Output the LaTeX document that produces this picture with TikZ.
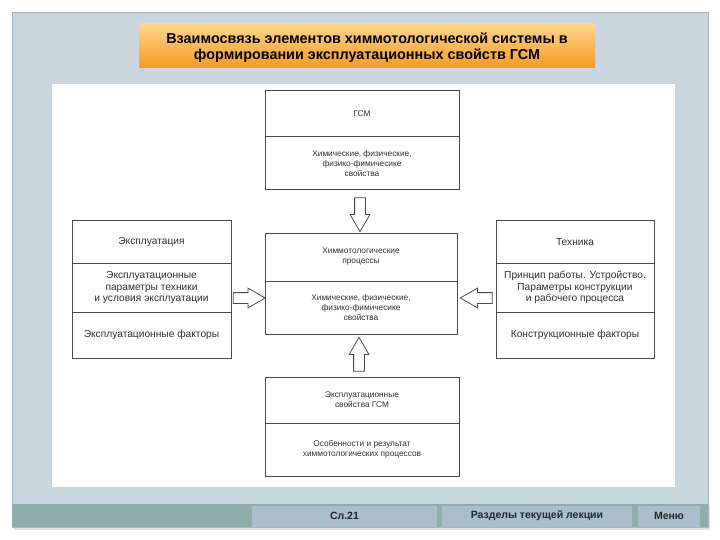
\documentclass[tikz,border=0pt]{standalone}
\usepackage{fontspec}
\setmainfont{Liberation Sans}
\usetikzlibrary{shapes.arrows,calc}

\definecolor{panelbg}{HTML}{CAD6DE}
\definecolor{panelrim}{HTML}{A9B8C0}
\definecolor{barbg}{HTML}{8EAEA9}
\definecolor{btnbg}{HTML}{AABFCB}
\definecolor{orangetop}{HTML}{FFD58C}
\definecolor{orangebot}{HTML}{F49A22}
\definecolor{boxline}{HTML}{4A4A4A}
\definecolor{boxtext}{HTML}{303030}

\tikzset{
  midpart/.style={draw=boxline, line width=1pt, minimum width=194pt, align=center,
    inner sep=1pt, text=boxtext, font=\fontsize{8.3}{10}\selectfont},
  sidepart/.style={draw=boxline, line width=1pt, minimum width=159pt, align=center,
    inner sep=1pt, text=boxtext, font=\fontsize{10.2}{11.5}\selectfont},
  blockarrow/.style={single arrow, draw=boxline, line width=0.8pt, fill=white,
    minimum height=34pt, single arrow head extend=4.5pt,
    single arrow tip angle=60, inner sep=5pt},
  button/.style={fill=btnbg, inner sep=0pt, minimum height=21pt,
    font=\fontsize{10.5}{12}\selectfont\bfseries, text=black!85}
}

\begin{document}
\begin{tikzpicture}[x=1pt,y=-1pt]
\useasboundingbox (0,0) rectangle (720,540);
\fill[white] (0,0) rectangle (720,540);

% slide frame
\fill[black!12] (14,506) rectangle (710,530);
\filldraw[fill=panelbg, draw=panelrim] (12,12) rectangle (708,527);
\fill[barbg] (12,504) rectangle (708,527);
\fill[white] (52,84) rectangle (675,487);

% title
\shade[top color=orangetop, bottom color=orangebot] (139,24) rectangle (595,68);
\node[align=center, font=\fontsize{14.4}{16.5}\selectfont\bfseries] (title) at (367,47.5)
  {Взаимосвязь элементов химмотологической системы в\\ формировании эксплуатационных свойств ГСМ};

% top block
\node[midpart, minimum height=46pt] (gsmA) at (362,114) {ГСМ};
\node[midpart, minimum height=53pt] (gsmB) at (362,163.5)
  {Химические, физические,\\ физико-фимичесике\\ свойства};

% centre block
\node[midpart, minimum width=192pt, minimum height=48pt] (procA) at (361,257)
  {Химмотологические\\ процессы};
\node[midpart, minimum width=192pt, minimum height=53pt] (procB) at (361,307.5)
  {Химические, физические,\\ физико-фимичесике\\ свойства};

% bottom block
\node[midpart, minimum height=46pt] (propA) at (362,400)
  {Эксплуатационные\\ свойства ГСМ};
\node[midpart, minimum height=53pt] (propB) at (362,449.5)
  {Особенности и результат\\ химмотологических процессов};

% left block
\node[sidepart, minimum height=42pt] (expA) at (151.5,242) {Эксплуатация};
\node[sidepart, minimum height=49pt] (expB) at (151.5,287.5)
  {Эксплуатационные\\ параметры техники\\ и условия эксплуатации};
\node[sidepart, minimum height=46pt] (expC) at (151.5,335) {Эксплуатационные факторы};

% right block
\node[sidepart, minimum width=158pt, minimum height=42pt] (techA) at (575,242) {Техника};
\node[sidepart, minimum width=158pt, minimum height=49pt] (techB) at (575,287.5)
  {Принцип работы. Устройство.\\ Параметры конструкции\\ и рабочего процесса};
\node[sidepart, minimum width=158pt, minimum height=46pt] (techC) at (575,335)
  {Конструкционные факторы};

% arrows into the centre block
\node[blockarrow, shape border rotate=270] (arrDown) at (360,210) {};
\node[blockarrow, shape border rotate=90] (arrUp) at (359,359) {};
\node[blockarrow, minimum height=32pt] (arrRight) at (244.5,298) {};
\node[blockarrow, minimum height=32pt, shape border rotate=180] (arrLeft) at (481,298) {};

% bottom bar
\node[button, minimum width=185pt] (slideNo) at (344.5,516) {Сл.21};
\node[button, minimum width=190pt] (sections) at (537,516) {Разделы текущей лекции};
\node[button, minimum width=62pt] (menu) at (669,516) {Меню};
\end{tikzpicture}
\end{document}
